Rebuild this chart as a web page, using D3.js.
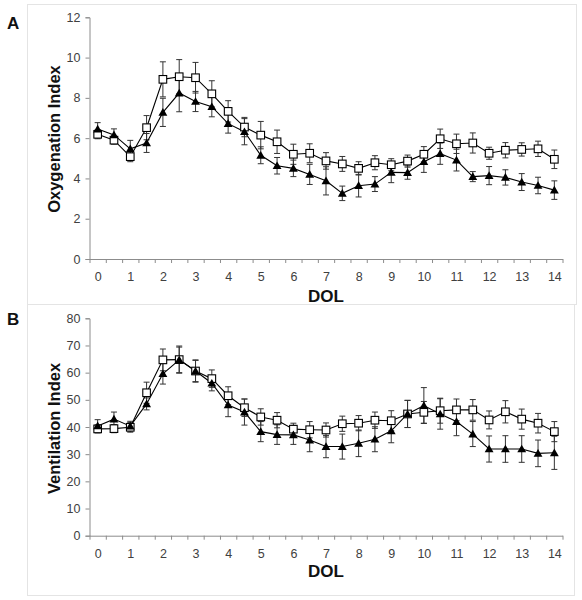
<!DOCTYPE html>
<html><head><meta charset="utf-8">
<script src="https://cdn.jsdelivr.net/npm/d3@7"></script>
<style>body{margin:0;background:#fff;} svg{display:block;}</style>
</head><body>
<svg id="chart" width="582" height="600"></svg>
<script>
const days = [0,0.5,1,1.5,2,2.5,3,3.5,4,4.5,5,5.5,6,6.5,7,7.5,8,8.5,9,9.5,10,10.5,11,11.5,12,12.5,13,13.5,14];
const xTickLabels = [0,1,2,3,4,5,6,7,8,9,10,11,12,13,14];

const oiOpen     = [6.19,5.9,5.08,6.52,8.92,9.05,9.0,8.2,7.33,6.55,6.15,5.82,5.2,5.25,4.87,4.72,4.5,4.78,4.68,4.86,5.2,5.97,5.72,5.76,5.25,5.4,5.44,5.47,4.95];
const oiOpenErr  = [0.22,0.2,0.25,0.6,0.87,0.85,0.76,0.65,0.53,0.48,0.68,0.58,0.5,0.47,0.41,0.37,0.33,0.35,0.3,0.3,0.38,0.48,0.48,0.5,0.3,0.38,0.33,0.38,0.46];
const oiFilled   = [6.45,6.16,5.47,5.76,7.28,8.24,7.82,7.56,6.72,6.32,5.15,4.63,4.5,4.2,3.88,3.26,3.64,3.72,4.3,4.29,4.83,5.23,4.91,4.09,4.14,4.05,3.82,3.65,3.42];
const oiFilledErr= [0.32,0.3,0.42,0.47,0.7,0.93,0.5,0.5,0.47,0.65,0.42,0.41,0.41,0.5,0.7,0.36,0.56,0.37,0.51,0.33,0.53,0.53,0.54,0.25,0.45,0.38,0.42,0.41,0.46];
const oiTicks = [0,2,4,6,8,10,12];

const viOpen     = [39.3,39.4,39.9,52.6,64.7,64.8,60.6,57.8,51.5,47.1,43.7,42.5,39.2,39.0,38.9,41.2,41.4,42.5,42.3,44.8,45.4,46.0,46.3,46.3,42.6,45.6,42.9,41.4,38.3];
const viOpenErr  = [1.5,1.5,1.8,3.9,4.0,5.0,4.1,3.2,3.3,3.2,3.0,2.8,2.2,3.0,2.6,2.8,2.8,3.0,3.7,5.0,4.0,4.6,4.0,3.8,3.3,4.1,3.7,3.6,3.7];
const viFilled   = [40.4,42.9,40.3,48.5,59.6,64.7,60.6,56.1,48.1,45.5,38.3,37.2,37.1,35.2,32.8,32.8,34.0,35.5,38.6,44.8,47.9,44.8,42.0,37.4,31.9,31.9,31.9,30.3,30.5];
const viFilledErr= [2.3,2.6,1.8,2.2,3.8,4.7,3.9,2.8,4.3,4.8,3.7,3.6,3.5,4.3,4.1,4.6,4.9,4.6,4.4,5.0,6.6,5.6,5.2,4.6,4.8,4.9,4.9,4.9,6.1];
const viTicks = [0,10,20,30,40,50,60,70,80];

const svg = d3.select("#chart");
const FONT = "'Liberation Sans', Arial, sans-serif";
const axisColor = "#8c8c8c";
const textColor = "#404040";

// panel frames
svg.append("rect").attr("x",27.5).attr("y",4.5).attr("width",549).attr("height",300)
  .attr("fill","none").attr("stroke","#e4e4e4");
svg.append("rect").attr("x",27.5).attr("y",304.5).attr("width",547).attr("height",291)
  .attr("fill","none").attr("stroke","#e4e4e4");

const x = d3.scaleLinear().domain([-0.25,14.25]).range([89.5,562.5]);
const boundaries = d3.range(0,30).map(i => -0.25 + i*0.5);

function panel(cfg){
  const g = svg.append("g");
  const y = d3.scaleLinear().domain(cfg.yDomain).range(cfg.yRange);
  const y0 = cfg.yRange[0];

  const ya = g.append("g").attr("transform",`translate(${x.range()[0]},0)`)
    .call(d3.axisLeft(y).tickValues(cfg.yTicks).tickSize(4).tickPadding(5).tickFormat(d3.format("d")));
  ya.select(".domain").attr("stroke",axisColor);
  ya.selectAll(".tick line").attr("stroke",axisColor);
  ya.selectAll("text").attr("fill",textColor).style("font-family",FONT).style("font-size","12.5px");

  const xa = g.append("g").attr("transform",`translate(0,${y0})`)
    .call(d3.axisBottom(x).tickValues(boundaries).tickSize(4).tickSizeOuter(0).tickFormat(""));
  xa.select(".domain").attr("stroke",axisColor);
  xa.selectAll(".tick line").attr("stroke",axisColor);
  const xl = g.append("g").attr("transform",`translate(0,${y0})`)
    .call(d3.axisBottom(x).tickValues(xTickLabels).tickSize(0).tickPadding(13).tickFormat(d3.format("d")));
  xl.select(".domain").remove();
  xl.selectAll("text").attr("fill",textColor).style("font-family",FONT).style("font-size","12.5px");

  g.append("text").attr("transform",`translate(${cfg.ytx},${cfg.yty}) rotate(-90)`)
    .attr("text-anchor","middle").attr("dominant-baseline","central")
    .style("font-family",FONT).style("font-weight","bold").style("font-size","16.5px")
    .attr("fill","#111").text(cfg.yTitle);
  g.append("text").attr("x",326).attr("y",cfg.dolY).attr("text-anchor","middle")
    .style("font-family",FONT).style("font-weight","bold").style("font-size","17px")
    .attr("fill","#111").text("DOL");
  g.append("text").attr("x",7).attr("y",cfg.letterY)
    .style("font-family",FONT).style("font-weight","bold").style("font-size","17px")
    .attr("fill","#111").text(cfg.letter);

  const series = [
    {v:cfg.open, e:cfg.openErr, type:"square"},
    {v:cfg.filled, e:cfg.filledErr, type:"triangle"}
  ];
  const capW = 3;
  series.forEach(s => {
    const eg = g.append("g").attr("stroke","#333").attr("stroke-width",1);
    days.forEach((d,i) => {
      const cx = x(d), top = y(s.v[i]+s.e[i]), bot = y(s.v[i]-s.e[i]);
      eg.append("line").attr("x1",cx).attr("x2",cx).attr("y1",top).attr("y2",bot);
      eg.append("line").attr("x1",cx-capW).attr("x2",cx+capW).attr("y1",top).attr("y2",top);
      eg.append("line").attr("x1",cx-capW).attr("x2",cx+capW).attr("y1",bot).attr("y2",bot);
    });
  });
  const line = d3.line().x((d,i)=>x(days[i])).y(d=>y(d));
  series.forEach(s => {
    g.append("path").datum(s.v).attr("d",line).attr("fill","none")
      .attr("stroke","#000").attr("stroke-width",1.1);
  });
  series.forEach(s => {
    days.forEach((d,i) => {
      const cx = x(d), cy = y(s.v[i]);
      if (s.type === "square") {
        g.append("rect").attr("x",cx-3.8).attr("y",cy-3.8).attr("width",7.6).attr("height",7.6)
          .attr("fill","#fff").attr("stroke","#000").attr("stroke-width",1.1);
      } else {
        g.append("path").attr("d",d3.symbol().type(d3.symbolTriangle).size(34)())
          .attr("transform",`translate(${cx},${cy+0.8})`).attr("fill","#000");
      }
    });
  });
}

panel({yDomain:[0,12], yRange:[259,17.3], yTicks:oiTicks, open:oiOpen, openErr:oiOpenErr,
  filled:oiFilled, filledErr:oiFilledErr, yTitle:"Oxygenation Index", ytx:54, yty:139,
  dolY:302, letter:"A", letterY:29});
panel({yDomain:[0,80], yRange:[535.7,318.3], yTicks:viTicks, open:viOpen, openErr:viOpenErr,
  filled:viFilled, filledErr:viFilledErr, yTitle:"Ventilation Index", ytx:54, yty:428.5,
  dolY:577, letter:"B", letterY:325});
</script>
</body></html>
